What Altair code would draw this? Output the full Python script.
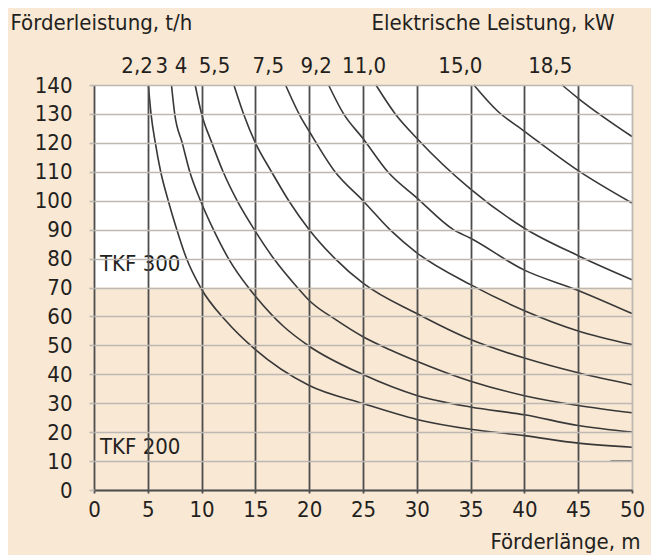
import altair as alt
import pandas as pd

# ---------------- data ----------------
kw_labels = ["2,2", "3", "4", "5,5", "7,5", "9,2", "11,0", "15,0", "18,5"]

c22_x = [5.05, 5.3, 5.7, 6.2, 6.9, 7.7, 8.6, 9.9, 12.3, 15, 20, 25, 30, 35, 40, 45, 50]
c22_y = [140, 130, 120, 110, 100, 90, 80, 70, 58.3, 48.5, 36.1, 29.9, 24.4, 21, 18.8, 16.2, 14.8]

c30_x = [7.2, 7.5, 8.2, 8.9, 9.9, 11.1, 12.5, 14.35, 15, 17.6, 20, 25, 30, 35, 40, 45, 50]
c30_y = [140, 130, 120, 110, 100, 90, 80, 70, 67, 56.6, 49.7, 39.9, 32.7, 28.7, 26, 22.3, 20]

c40_x = [9.4, 10.0, 10.95, 12.0, 13.3, 15.0, 16.7, 18.9, 20, 22.5, 25, 27.5, 30, 35, 40, 45, 50]
c40_y = [140, 130, 120, 110, 100, 89.4, 80, 70, 65.5, 58.8, 53, 48.5, 44.5, 37.6, 32.6, 29.2, 26.7]

c55_x = [13.0, 13.9, 15.0, 16.5, 18.1, 20.0, 22.4, 25, 30, 35, 40, 45, 50]
c55_y = [140, 130, 120, 110, 100, 90, 80, 71.5, 61, 52, 45.6, 40.5, 36.4]

c75_x = [17.8, 19.2, 20, 22.4, 25, 27.5, 30, 35, 40, 45, 50]
c75_y = [140, 129, 124, 110, 100, 90, 82, 71, 62, 55, 50.3]

c92_x = [21.8, 23.2, 25, 27.3, 30, 33.4, 35, 40, 45, 50]
c92_y = [140, 130, 121.5, 110, 101, 90, 87, 76, 69, 61]

c110_x = [26.2, 28, 30, 35, 40, 45, 50]
c110_y = [140, 130, 121.6, 104, 90.5, 81, 72.7]

c150_x = [35.3, 37.5, 40, 45, 50]
c150_y = [140, 131, 124, 110.4, 99.2]

c185_x = [43.5, 45, 50]
c185_y = [140, 135.4, 122.2]

curves_x = [c22_x, c30_x, c40_x, c55_x, c75_x, c92_x, c110_x, c150_x, c185_x]
curves_y = [c22_y, c30_y, c40_y, c55_y, c75_y, c92_y, c110_y, c150_y, c185_y]

# kW label anchor positions (x in Förderlänge units, y in t/h units)
kw_label_x = [4.0, 6.3, 8.1, 11.2, 16.2, 20.65, 25.1, 34.05, 42.4]
kw_label_y = 146.6

# TKF zones
zone_names = ["TKF 300", "TKF 200"]
zone_label_x = [0.55, 0.55]
zone_label_y = [78.2, 14.8]
white_zone_y0 = [70]
white_zone_y1 = [140]
white_zone_x0 = [0]
white_zone_x1 = [50]

# stray short marks at 10 t/h
seg_x0 = [35, 48]
seg_x1 = [35.8, 50]
seg_y = [10, 10]

x_ticks = list(range(0, 51, 5))
y_ticks = list(range(0, 141, 10))

# ---------------- tables ----------------
rows = []
for lab, xs, ys in zip(kw_labels, curves_x, curves_y):
    for xv, yv in zip(xs, ys):
        rows.append({"kw": lab, "x": xv, "y": yv})
df_curves = pd.DataFrame(rows)
df_kw = pd.DataFrame({"kw": kw_labels, "x": kw_label_x, "y": [kw_label_y] * len(kw_labels)})
df_zone = pd.DataFrame({"name": zone_names, "x": zone_label_x, "y": zone_label_y})
df_white = pd.DataFrame({"x0": white_zone_x0, "x1": white_zone_x1, "y0": white_zone_y0, "y1": white_zone_y1})
df_seg = pd.DataFrame({"x0": seg_x0, "x1": seg_x1, "y": seg_y})

# ---------------- styles ----------------
FONT = "DejaVu Sans Condensed"
BG = "#f9e8d4"
TXT = "#231f20"
DARK = "#4d4d4d"
LIGHT = "#bdb8b2"
FS = 22

xscale = alt.Scale(domain=[0, 50], nice=False, zero=False)
yscale = alt.Scale(domain=[0, 140], nice=False, zero=False)

yaxis = alt.Axis(
    values=y_ticks, grid=True, gridColor=LIGHT, gridWidth=1.6,
    domain=False, ticks=True, tickColor=LIGHT, tickSize=5, tickWidth=1.6,
    labelFont=FONT, labelFontSize=FS, labelColor=TXT, labelPadding=17,
    title="Förderleistung, t/h", titleFont=FONT, titleFontSize=FS,
    titleFontWeight="normal", titleColor=TXT, titleAngle=0, titleAlign="left",
    titleBaseline="alphabetic", titleX=-84, titleY=-56, zindex=1,
)

xaxis = alt.Axis(
    orient="bottom", values=x_ticks, grid=True,
    gridColor={"condition": {"test": "datum.value === 50", "value": LIGHT}, "value": DARK},
    gridWidth=1.8, domain=True, domainColor=DARK, domainWidth=2,
    ticks=True, tickColor=DARK, tickSize=3, tickWidth=1.8,
    labelFont=FONT, labelFontSize=FS, labelColor=TXT, labelPadding=6,
    labelFlush=False, labelOverlap=False,
    title="Förderlänge, m", titleFont=FONT, titleFontSize=FS,
    titleFontWeight="normal", titleColor=TXT, titleAlign="right",
    titleBaseline="alphabetic", titleX=546, titleY=58, zindex=1,
)

topaxis = alt.Axis(
    orient="top", labels=False, ticks=False, domain=False, grid=False,
    title="Elektrische Leistung, kW", titleFont=FONT, titleFontSize=FS,
    titleFontWeight="normal", titleColor=TXT, titleAlign="right",
    titleBaseline="alphabetic", titleX=520, titleY=-56,
)


def Y(field):
    return alt.Y(field, type="quantitative", scale=yscale, axis=yaxis)


white = alt.Chart(df_white).mark_rect(color="white").encode(
    x=alt.X("x0:Q", scale=xscale, axis=None),
    x2="x1:Q",
    y=Y("y0"),
    y2="y1:Q",
)

lines = alt.Chart(df_curves).mark_line(
    color="#383838", strokeWidth=1.6, interpolate="monotone"
).encode(
    x=alt.X("x:Q", scale=xscale, axis=xaxis),
    y=Y("y"),
    detail="kw:N",
)

kw_text = alt.Chart(df_kw).mark_text(
    font=FONT, fontSize=FS, color=TXT, align="center", baseline="middle"
).encode(
    x=alt.X("x:Q", scale=xscale, axis=topaxis),
    y=Y("y"),
    text="kw:N",
)

zone_text = alt.Chart(df_zone).mark_text(
    font=FONT, fontSize=FS, color=TXT, align="left", baseline="middle"
).encode(
    x=alt.X("x:Q", scale=xscale, axis=None),
    y=Y("y"),
    text="name:N",
)

segs = alt.Chart(df_seg).mark_rule(color="#555555", strokeWidth=1.5).encode(
    x=alt.X("x0:Q", scale=xscale, axis=None),
    x2="x1:Q",
    y=Y("y"),
)

chart = (
    alt.layer(white, lines, segs, zone_text, kw_text)
    .resolve_axis(x="independent")
    .properties(
        width=538,
        height=405,
        padding={"left": 86, "top": 77, "right": 19, "bottom": 65},
        autosize=alt.AutoSizeParams(type="none"),
        background=BG,
    )
    .configure_view(stroke="transparent")
    .configure(font=FONT)
)

chart.save("out.html", embed_options={"renderer": "svg", "actions": False})
